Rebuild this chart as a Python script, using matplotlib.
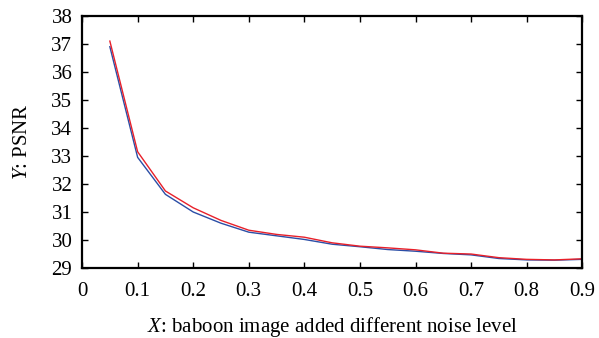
import matplotlib
matplotlib.use("Agg")
import matplotlib.pyplot as plt

plt.rcParams["font.family"] = "Liberation Serif"
plt.rcParams["mathtext.fontset"] = "custom"
plt.rcParams["mathtext.it"] = "Liberation Serif:italic"
plt.rcParams["mathtext.rm"] = "Liberation Serif"

# noise levels and PSNR for the two methods
noise = [0.05, 0.1, 0.15, 0.2, 0.25, 0.3, 0.35, 0.4, 0.45,
         0.5, 0.55, 0.6, 0.65, 0.7, 0.75, 0.8, 0.85, 0.9]
psnr_red = [37.1, 33.15, 31.75, 31.15, 30.7, 30.35, 30.2, 30.1, 29.9,
            29.78, 29.72, 29.65, 29.53, 29.5, 29.37, 29.31, 29.29, 29.33]
psnr_blue = [36.9, 32.95, 31.63, 31.0, 30.6, 30.28, 30.15, 30.02, 29.85,
             29.76, 29.66, 29.6, 29.52, 29.47, 29.34, 29.29, 29.28, 29.31]

fig = plt.figure(figsize=(5.99, 3.38), dpi=100)
ax = fig.add_axes([0.137, 0.207, 0.835, 0.746])
ax.plot(noise, psnr_blue, color="#2b4ea6", lw=1.0)
ax.plot(noise, psnr_red, color="#e8202a", lw=1.0)

ax.set_xlim(0, 0.9)
ax.set_ylim(29, 38)
ax.set_xticks([0, 0.1, 0.2, 0.3, 0.4, 0.5, 0.6, 0.7, 0.8, 0.9])
ax.set_xticklabels(["0", "0.1", "0.2", "0.3", "0.4", "0.5", "0.6", "0.7", "0.8", "0.9"])
ax.set_yticks(range(29, 39))
ax.tick_params(direction="in", top=True, right=True, length=4, width=1,
               labelsize=15)
ax.tick_params(axis="x", pad=10)
ax.tick_params(axis="y", pad=7)
for s in ax.spines.values():
    s.set_linewidth(1.6)

ax.set_xlabel(r"$X$: baboon image added different noise level", fontsize=15, labelpad=10)
ax.set_ylabel(r"$Y$: PSNR", fontsize=15, labelpad=14)

fig.savefig("out.png", dpi=100)
